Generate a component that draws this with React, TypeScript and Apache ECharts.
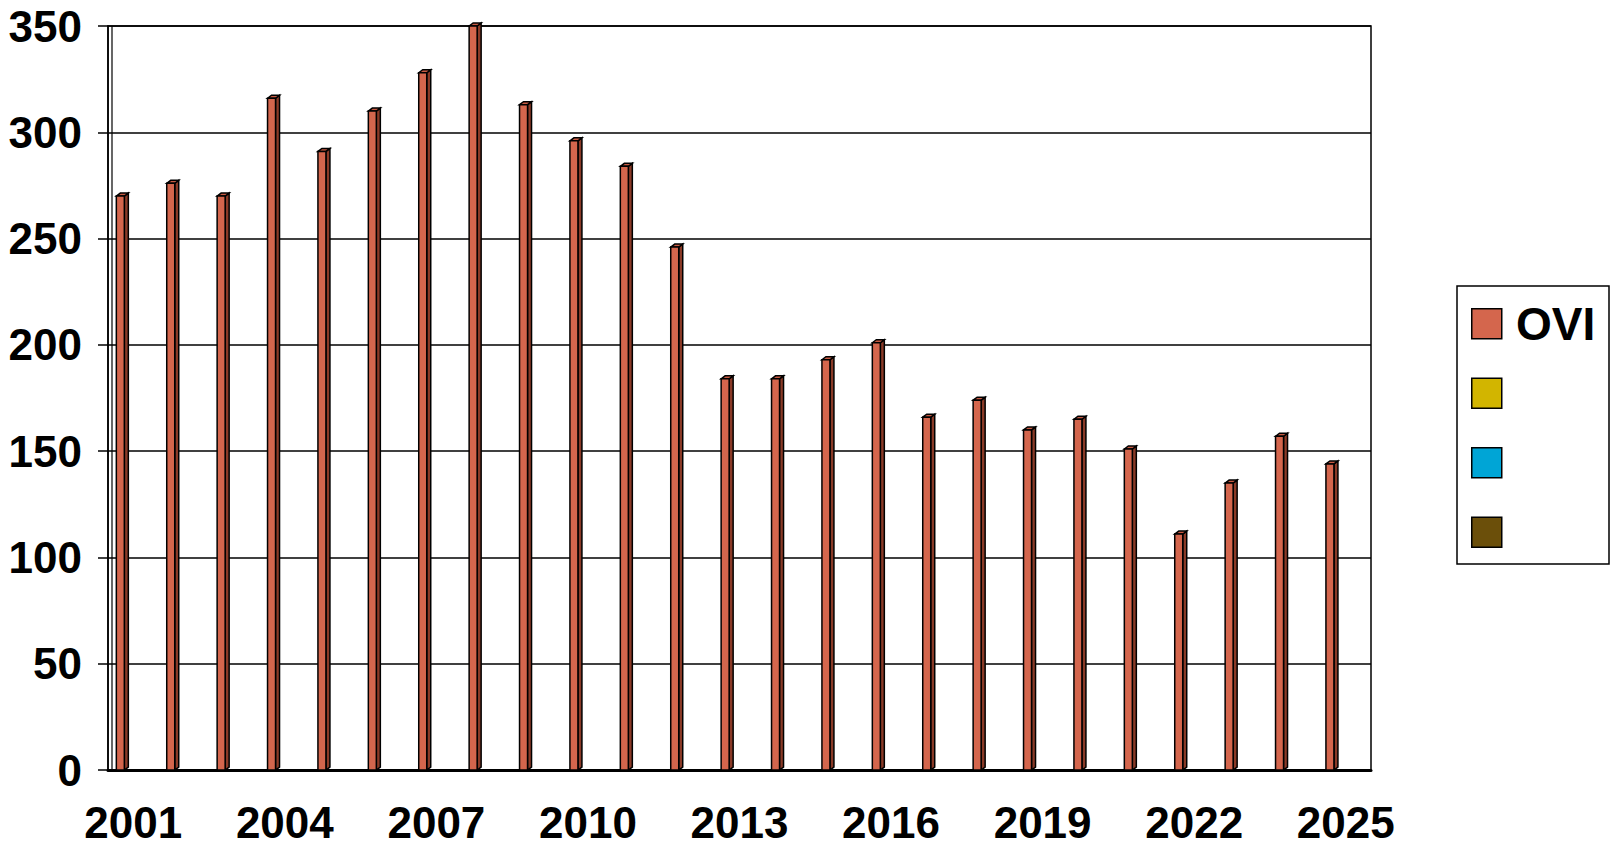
import React, { useEffect, useRef } from "react";
import * as echarts from "echarts";

const years = ["2001","2002","2003","2004","2005","2006","2007","2008","2009","2010","2011","2012","2013","2014","2015","2016","2017","2018","2019","2020","2021","2022","2023","2024","2025"];
const ovi = [270, 276, 270, 316, 291, 310, 328, 350, 313, 296, 284, 246, 184, 184, 193, 201, 166, 174, 160, 165, 151, 111, 135, 157, 144];
const seriesNames = ["OVI", "S2", "S3", "S4"];
const seriesColors = ["#D4664D", "#D2B500", "#00A5D6", "#6B4F0A"];
const yTicks = { min: 0, max: 350, interval: 50 };

const FONT = "'Liberation Sans', Arial, Helvetica, sans-serif";

export default function App() {
  const ref = useRef<HTMLDivElement>(null);
  useEffect(() => {
    if (!ref.current) return;
    const chart = echarts.init(ref.current, null, { renderer: "svg" });
    const renderItem = (params: any, api: any) => {
      const idx = api.value(0);
      const v = api.value(1);
      const top = api.coord([idx, v]);
      const base = api.coord([idx, 0]);
      const band = api.size([1, 0])[0];
      const left = top[0] - band / 2 + band * 0.165 - idx * 0.12;
      const w = 8;
      const dx = 4;
      const dy = 3;
      const stroke = { stroke: "#000", lineWidth: 1.5 };
      return {
        type: "group",
        children: [
          {
            type: "polygon",
            shape: { points: [[left + w, top[1]], [left + w + dx, top[1] - dy], [left + w + dx, base[1] - dy], [left + w, base[1]]] },
            style: { fill: "#8A3A27", ...stroke },
          },
          {
            type: "polygon",
            shape: { points: [[left, top[1]], [left + dx, top[1] - dy], [left + w + dx, top[1] - dy], [left + w, top[1]]] },
            style: { fill: "#C65A42", ...stroke },
          },
          {
            type: "rect",
            shape: { x: left, y: top[1], width: w, height: base[1] - top[1] },
            style: { fill: seriesColors[0], ...stroke },
          },
        ],
      };
    };
    chart.setOption({
      animation: false,
      backgroundColor: "#fff",
      textStyle: { fontFamily: FONT },
      grid: {
        left: 108, right: 239, top: 26, bottom: 78,
        show: true, borderColor: "#000", borderWidth: 1.5,
      },
      legend: {
        orient: "vertical",
        left: 1471,
        top: 308,
        data: seriesNames,
        icon: "rect",
        itemWidth: 30,
        itemHeight: 30,
        itemGap: 38,
        padding: 0,
        formatter: () => "",
        textStyle: { fontSize: 12, lineHeight: 30 },
        itemStyle: { borderColor: "#000", borderWidth: 1.5 },
        selectedMode: false,
      },
      xAxis: {
        type: "category",
        data: years,
        boundaryGap: true,
        axisLine: { lineStyle: { color: "#000", width: 3 } },
        axisTick: { interval: 0, length: 11, lineStyle: { color: "#000", width: 1.5 } },
        axisLabel: { interval: 2, margin: 30, fontSize: 44, fontWeight: "bold", color: "#000", fontFamily: FONT },
        splitLine: { show: false },
      },
      yAxis: {
        type: "value",
        min: yTicks.min,
        max: yTicks.max,
        interval: yTicks.interval,
        axisLine: { show: true, lineStyle: { color: "#000", width: 1.5 } },
        axisTick: { show: true, length: 10, lineStyle: { color: "#000", width: 1.5 } },
        axisLabel: { margin: 26, fontSize: 44, fontWeight: "bold", color: "#000", fontFamily: FONT },
        splitLine: { show: true, lineStyle: { color: "#000", width: 1.5 } },
      },
      graphic: [
        { type: "line", shape: { x1: 112, y1: 26, x2: 112, y2: 770 }, style: { stroke: "#000", lineWidth: 1.2 } },
        { type: "rect", shape: { x: 1457, y: 286, width: 152, height: 278 }, style: { fill: "none", stroke: "#000", lineWidth: 1.5 } },
        {
          type: "text",
          x: 1516,
          y: 324,
          style: { text: seriesNames[0], fontSize: 46, fontWeight: "bold", fontFamily: FONT, fill: "#000", verticalAlign: "middle", align: "left" },
        },
      ],
      series: [
        {
          name: seriesNames[0],
          type: "custom",
          renderItem,
          itemStyle: { color: seriesColors[0] },
          encode: { x: 0, y: 1 },
          data: ovi.map((v, i) => [i, v]),
          clip: false,
        },
        { name: seriesNames[1], type: "bar", data: [], itemStyle: { color: seriesColors[1] } },
        { name: seriesNames[2], type: "bar", data: [], itemStyle: { color: seriesColors[2] } },
        { name: seriesNames[3], type: "bar", data: [], itemStyle: { color: seriesColors[3] } },
      ],
    });
    return () => chart.dispose();
  }, []);
  return <div ref={ref} style={{ position: "absolute", left: 0, top: 0, width: 1610, height: 848 }} />;
}
